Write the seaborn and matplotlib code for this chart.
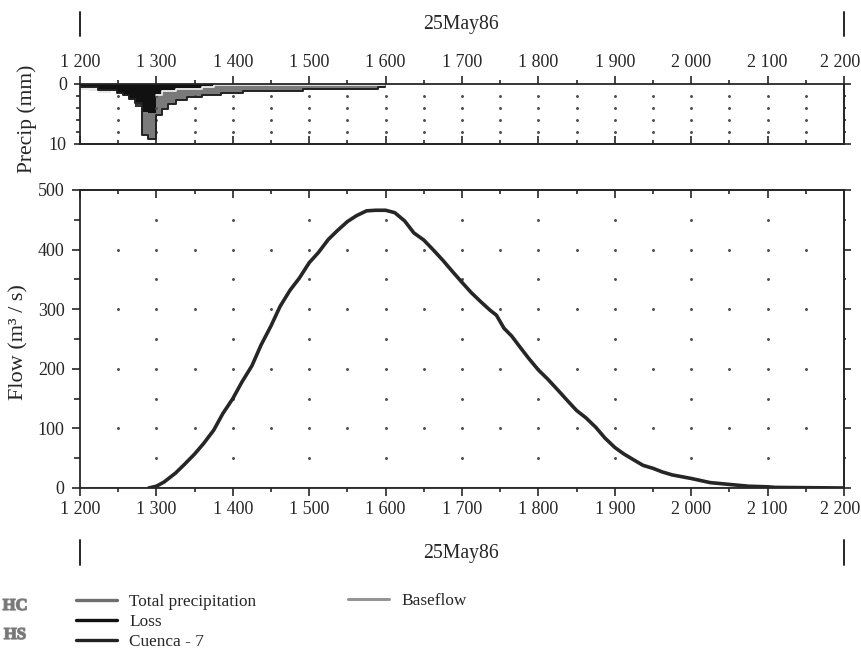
#!/usr/bin/env python3

import numpy as np
import pandas as pd
import matplotlib
matplotlib.use('Agg')
from matplotlib import pyplot as plt
from matplotlib import patheffects
from matplotlib.lines import Line2D
from matplotlib.transforms import ScaledTranslation
import seaborn as sns

# x axis
major_x = [1200, 1300, 1400, 1500, 1600, 1700, 1800, 1900, 2000, 2100, 2200]
minor_x = [1250, 1350, 1450, 1550, 1650, 1750, 1850, 1950, 2050, 2150]
x_labels = ['1 200', '1 300', '1 400', '1 500', '1 600', '1 700', '1 800', '1 900', '2 000', '2 100', '2 200']
date_label = '25May86'

# hyetograph, depth in mm at the start of each step
step_time = [1200, 1224, 1248, 1256, 1264, 1272, 1281, 1289, 1300, 1307, 1315, 1325, 1340, 1360, 1375, 1384, 1413, 1492, 1590, 1599]
total_precip = [0.5, 1.0, 1.5, 1.8, 2.5, 3.2, 8.5, 9.2, 5.2, 4.1, 3.3, 2.7, 2.2, 1.8, 1.8, 1.5, 1.2, 0.9, 0.5, 0.0]
loss = [0.5, 1.0, 1.4, 1.8, 2.5, 3.2, 4.6, 4.8, 1.6, 1.0, 1.0, 0.6, 0.6, 0.4, 0.0, 0.0, 0.0, 0.0, 0.0, 0.0]
haze_time = [1200, 1212, 1224, 1240]
haze_depth = [1.0, 1.2, 1.5, 1.5]
speck_time = [1272, 1280]
speck_top = [3.0, 3.0]
speck_bottom = [3.8, 3.8]

# hydrograph
flow_time = [1290, 1300, 1310, 1325, 1337, 1350, 1362, 1375, 1387, 1400, 1412, 1425, 1437, 1450, 1462, 1475,
             1487, 1500, 1512, 1525, 1537, 1550, 1562, 1575, 1587, 1600, 1612, 1625, 1637, 1650, 1662, 1675,
             1687, 1700, 1712, 1725, 1737, 1745, 1755, 1765, 1775, 1787, 1800, 1812, 1825, 1837, 1850, 1862,
             1875, 1887, 1900, 1912, 1925, 1937, 1950, 1962, 1975, 2000, 2025, 2050, 2075, 2100, 2110, 2200]
flow_total = [0, 3, 10, 25, 40, 57, 75, 97, 125, 150, 178, 205, 240, 272, 305, 332,
              352, 378, 395, 417, 432, 447, 457, 465, 466, 466, 462, 448, 428, 416, 400, 382,
              364, 345, 328, 312, 298, 290, 268, 255, 238, 218, 198, 183, 165, 148, 130, 118,
              102, 84, 68, 57, 47, 38, 33, 27, 22, 16, 9, 6, 3, 2, 1, 0]
base_time = [1200, 2200]
baseflow = [0, 0]

flow_major = [0, 100, 200, 300, 400, 500]
flow_minor = [50, 150, 250, 350, 450]
precip_major = [0, 10]
precip_minor = [2, 4, 6, 8]

ink = '#262626'
dot = '#4d4d4d'
W, H = 862, 649

sns.set_theme(style='ticks')
plt.rcParams['font.family'] = ['Liberation Serif', 'DejaVu Serif']
plt.rcParams['axes.linewidth'] = 1.3
plt.rcParams['text.color'] = ink
plt.rcParams['axes.labelcolor'] = ink
plt.rcParams['xtick.color'] = ink
plt.rcParams['ytick.color'] = ink

fig = plt.figure(figsize=(W / 100, H / 100), dpi=100)


def px_axes(left, top, right, bottom):
    return fig.add_axes([left / W, 1 - bottom / H, (right - left) / W, (bottom - top) / H])


def tick_setup(ax, ymajor, yminor, ylabels, xside, xinner, ylen):
    ax.set_xlim(1200, 2200)
    ax.set_xticks(major_x)
    ax.set_xticklabels(x_labels, fontsize=13)
    ax.set_xticks(minor_x, minor=True)
    ax.set_yticks(ymajor)
    ax.set_yticklabels(ylabels, fontsize=13)
    ax.set_yticks(yminor, minor=True)
    ax.tick_params(axis='y', which='major', length=ylen, width=1.2, pad=5)
    ax.tick_params(axis='y', which='minor', length=ylen - 1.5, width=1.2)
    ax.tick_params(axis='x', which='major', length=5.5, width=1.2, pad=4, direction='out')
    ax.tick_params(axis='x', which='minor', length=3, width=1.2, direction='out')
    ax.xaxis.set_ticks_position(xside)
    ax.xaxis.set_label_position(xside)
    # last label sits a little left of its tick so it stays on the page
    last = ax.get_xticklabels()[-1]
    last.set_transform(last.get_transform() + ScaledTranslation(-4 / 100, 0, fig.dpi_scale_trans))
    other = ax.secondary_xaxis(xinner)
    other.set_xticks(major_x)
    other.set_xticklabels([])
    other.set_xticks(minor_x, minor=True)
    other.tick_params(axis='x', which='major', length=5.5, width=1.2, direction='in')
    other.tick_params(axis='x', which='minor', length=3, width=1.2, direction='in')
    right = ax.secondary_yaxis('right')
    right.set_yticks(ymajor)
    right.set_yticklabels([])
    right.set_yticks(yminor, minor=True)
    right.tick_params(axis='y', which='major', length=5, width=1.2)
    right.tick_params(axis='y', which='minor', length=1.5, width=1.2)


# precipitation panel
ax_p = px_axes(80, 84, 844, 144)
ax_p.fill_between(haze_time, 0, haze_depth, step='post', color='#e9e9e9', lw=0)
ax_p.fill_between(step_time, 0, total_precip, step='post', color='#7a7a7a', lw=0)
ax_p.step(step_time, total_precip, where='post', color='#222222', lw=1.4)
ax_p.fill_between(step_time, 0, loss, step='post', color='#111111', lw=0)
cut = step_time.index(1300)
ax_p.step(step_time[cut:], np.array(loss[cut:]) + 0.15, where='post', color='#f2f2f2', lw=1.2)
ax_p.fill_between(speck_time, speck_top, speck_bottom, color='#333333', lw=0)
tick_setup(ax_p, precip_major, precip_minor, ['0', '10'], 'top', 'bottom', 4.5)
ax_p.set_ylim(10, 0)
ax_p.set_xlabel('')
ax_p.set_ylabel('Precip (mm)', fontsize=15.5)
ax_p.yaxis.set_label_coords(-43 / 764, 0.42)

gx, gy = np.meshgrid(major_x[1:-1] + minor_x, precip_minor)
ax_p.plot(gx.ravel(), gy.ravel(), ls='', marker='o', ms=1.1, color=dot, zorder=1.5)

# flow panel
ax_f = px_axes(80, 190, 844, 488)
flow_df = pd.DataFrame({'time': flow_time, 'flow': flow_total})
base_df = pd.DataFrame({'time': base_time, 'flow': baseflow})
sns.lineplot(data=base_df, x='time', y='flow', color='#8c8c8c', lw=1.5, ax=ax_f, errorbar=None)
sns.lineplot(data=flow_df, x='time', y='flow', color=ink, lw=2.6, ax=ax_f, errorbar=None)
tick_setup(ax_f, flow_major, flow_minor, [str(v) for v in flow_major], 'bottom', 'top', 6)
ax_f.set_ylim(0, 500)
ax_f.set_xlabel('')
ax_f.set_ylabel('Flow (m³ / s)', fontsize=16)
ax_f.yaxis.set_label_coords(-52 / 764, 0.49)

gx, gy = np.meshgrid(major_x[1:-1], flow_major[1:-1] + flow_minor)
ax_f.plot(gx.ravel(), gy.ravel(), ls='', marker='o', ms=1.1, color=dot, zorder=1.5)
gx, gy = np.meshgrid(minor_x, flow_major[1:-1])
ax_f.plot(gx.ravel(), gy.ravel(), ls='', marker='o', ms=1.1, color=dot, zorder=1.5)

# date strips above and below
for y0, y1 in [(12, 36), (540, 565)]:
    for px in (80, 844):
        fig.add_artist(Line2D([px / W, px / W], [1 - y0 / H, 1 - y1 / H], color=ink, lw=1.4))
    fig.text(461 / W, 1 - ((y0 + y1) / 2 + 1) / H, date_label, ha='center', va='center', fontsize=14.2)

# legend
col1 = [Line2D([], [], color='#6e6e6e', lw=2.4), Line2D([], [], color='#111111', lw=2.4), Line2D([], [], color='#222222', lw=2.4)]
col2 = [Line2D([], [], color='#959595', lw=2.2)]
fig.legend(col1, ['Total precipitation', 'Loss', 'Cuenca - 7'], loc='upper left',
           bbox_to_anchor=(76 / W, 1 - 594 / H), borderaxespad=0, borderpad=0, frameon=False,
           fontsize=12.4, handlelength=2.4, handletextpad=0.7, labelspacing=0.22)
fig.legend(col2, ['Baseflow'], loc='upper left',
           bbox_to_anchor=(348 / W, 1 - 593 / H), borderaxespad=0, borderpad=0, frameon=False,
           fontsize=12.4, handlelength=2.4, handletextpad=0.7)

# smudged side marks
smudge = [patheffects.withStroke(linewidth=1.0, foreground='#8a8a8a')]
fig.text(15 / W, 1 - 606 / H, 'HC', ha='center', va='center', fontsize=12, fontweight='bold', color='#777777', path_effects=smudge)
fig.text(15 / W, 1 - 635 / H, 'HS', ha='center', va='center', fontsize=12, fontweight='bold', color='#777777', path_effects=smudge)

plt.savefig('out.png', dpi=100)
